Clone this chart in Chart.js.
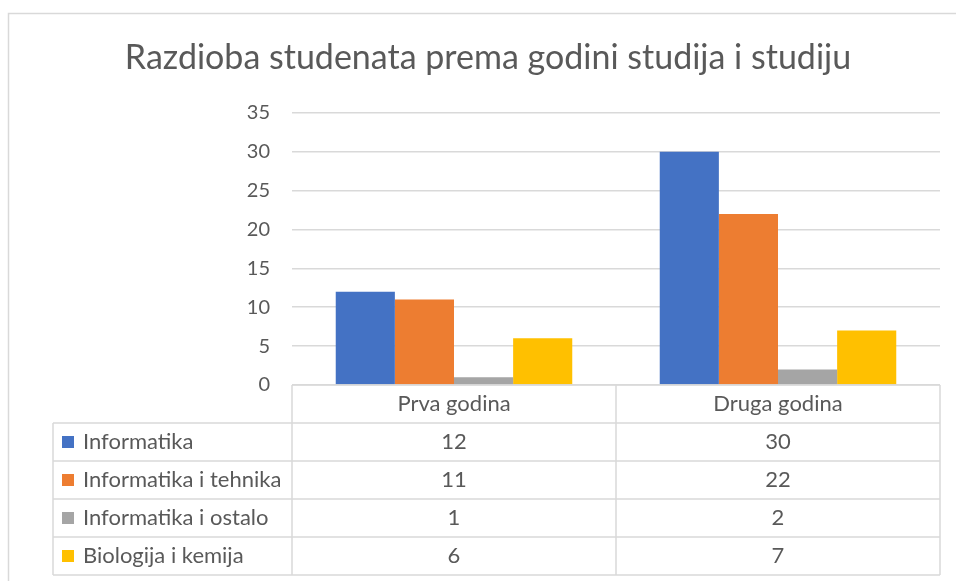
<!DOCTYPE html>
<html>
<head>
<meta charset="utf-8">
<script src="https://cdn.jsdelivr.net/npm/chart.js@4"></script>
<style>
  html, body { margin: 0; padding: 0; background: #fff; }
  #chart { display: block; }
</style>
</head>
<body>
<canvas id="chart" width="956" height="581"></canvas>
<script>
// Chart data
const chartTitle = 'Razdioba studenata prema godini studija i studiju';
const categories = ['Prva godina', 'Druga godina'];
const seriesNames = ['Informatika', 'Informatika i tehnika', 'Informatika i ostalo', 'Biologija i kemija'];
const informatika = [12, 30];
const informatikaTehnika = [11, 22];
const informatikaOstalo = [1, 2];
const biologijaKemija = [6, 7];
const seriesColors = ['#4472C4', '#ED7D31', '#A5A5A5', '#FFC000'];
const yTicks = { min: 0, max: 35, step: 5 };

const textColor = '#595959';
const lineColor = '#d9d9d9';
const fontFamily = 'Lato, "Open Sans", sans-serif';

const seriesValues = [informatika, informatikaTehnika, informatikaOstalo, biologijaKemija];

// Outer frame of the chart object
const framePlugin = {
    id: 'frame',
    beforeDraw(chart) {
        const ctx = chart.ctx;
        ctx.save();
        ctx.fillStyle = '#fff';
        ctx.fillRect(0, 0, chart.width, chart.height);
        ctx.strokeStyle = lineColor;
        ctx.lineWidth = 1.5;
        ctx.beginPath();
        ctx.moveTo(8.5, chart.height);
        ctx.lineTo(8.5, 13.5);
        ctx.lineTo(chart.width, 13.5);
        ctx.stroke();
        ctx.restore();
    }
};

// Data table under the plot, aligned on the x scale
const dataTablePlugin = {
    id: 'dataTable',
    afterDraw(chart) {
        const ctx = chart.ctx;
        const area = chart.chartArea;
        const x = chart.scales.x;
        const rowH = 38;
        const tableLeft = 53;
        const top = area.bottom;
        const bottom = top + rowH * (seriesNames.length + 1);
        const catW = (area.right - area.left) / categories.length;

        ctx.save();
        ctx.strokeStyle = lineColor;
        ctx.lineWidth = 1.5;
        ctx.beginPath();
        // header top line
        ctx.moveTo(area.left, top);
        ctx.lineTo(area.right, top);
        // row lines
        for (let r = 1; r <= seriesNames.length + 1; r++) {
            const y = top + r * rowH;
            ctx.moveTo(tableLeft, y);
            ctx.lineTo(area.right, y);
        }
        // vertical lines
        ctx.moveTo(tableLeft, top + rowH);
        ctx.lineTo(tableLeft, bottom);
        for (let c = 0; c <= categories.length; c++) {
            const xx = area.left + c * catW;
            ctx.moveTo(xx, top);
            ctx.lineTo(xx, bottom);
        }
        ctx.stroke();

        ctx.fillStyle = textColor;
        ctx.font = '22px ' + fontFamily;
        ctx.textBaseline = 'middle';
        ctx.textAlign = 'center';
        categories.forEach((cat, i) => {
            ctx.fillText(cat, x.getPixelForValue(i), top + rowH / 2);
        });

        seriesNames.forEach((name, s) => {
            const cy = top + rowH * (s + 1) + rowH / 2;
            ctx.fillStyle = seriesColors[s];
            ctx.fillRect(62, cy - 6, 12, 12);
            ctx.fillStyle = textColor;
            ctx.textAlign = 'left';
            ctx.fillText(name, 83, cy);
            ctx.textAlign = 'center';
            seriesValues[s].forEach((v, i) => {
                ctx.fillText(String(v), x.getPixelForValue(i), cy);
            });
        });
        ctx.restore();
    }
};

const ctx = document.getElementById('chart').getContext('2d');
new Chart(ctx, {
    type: 'bar',
    data: {
        labels: categories,
        datasets: seriesNames.map((name, i) => ({
            label: name,
            data: seriesValues[i],
            backgroundColor: seriesColors[i],
            borderWidth: 0,
            categoryPercentage: 0.73,
            barPercentage: 1.0
        }))
    },
    options: {
        responsive: false,
        animation: false,
        devicePixelRatio: 1,
        layout: {
            padding: { top: 14, right: 16, bottom: 196, left: 36 }
        },
        plugins: {
            legend: { display: false },
            tooltip: { enabled: false },
            title: {
                display: true,
                text: chartTitle,
                color: textColor,
                font: { family: fontFamily, size: 34, weight: '400' },
                padding: { top: 24, bottom: 34 }
            }
        },
        scales: {
            x: {
                display: false
            },
            y: {
                min: yTicks.min,
                max: yTicks.max,
                ticks: {
                    stepSize: yTicks.step,
                    color: textColor,
                    padding: 22,
                    font: { family: fontFamily, size: 20 }
                },
                grid: {
                    color: lineColor,
                    lineWidth: 1.5,
                    drawTicks: false
                },
                border: { display: false },
                afterFit(scale) { scale.width = 256; }
            }
        }
    },
    plugins: [framePlugin, dataTablePlugin]
});
</script>
</body>
</html>
